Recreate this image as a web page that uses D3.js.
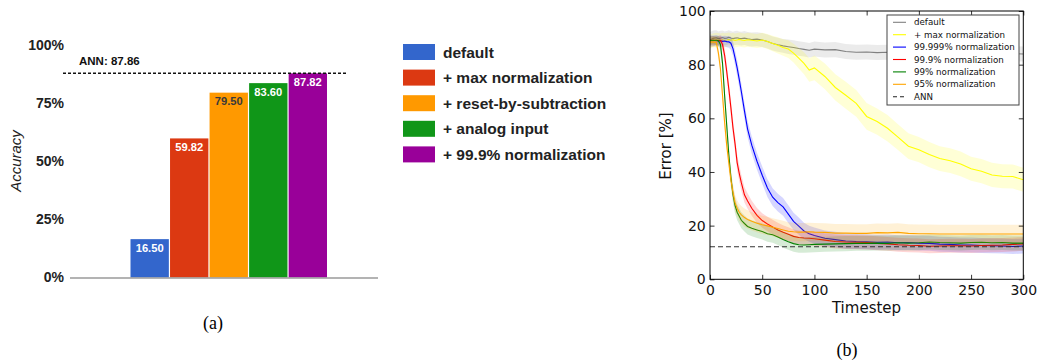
<!DOCTYPE html>
<html>
<head>
<meta charset="utf-8">
<script src="https://cdn.jsdelivr.net/npm/d3@7"></script>
<style>
  html, body { margin: 0; padding: 0; background: #fff; }
  svg { display: block; }
</style>
</head>
<body>
<svg id="chart" width="1039" height="362"></svg>
<script>
// ---------------- Panel (a) data ----------------
const categories = ["default", "+ max normalization", "+ reset-by-subtraction", "+ analog input", "+ 99.9% normalization"];
const accuracy = [16.50, 59.82, 79.50, 83.60, 87.82];
const barColors = ["#3366cc", "#dc3912", "#ff9900", "#109618", "#990099"];
const valueLabelColors = ["#ffffff", "#ffffff", "#3a3a3a", "#ffffff", "#ffffff"];
const annAccuracy = 87.86;
const accuracyTicks = [0, 0.25, 0.5, 0.75, 1.0];

// ---------------- Panel (b) data ----------------
const timesteps = [0, 3, 6, 8, 10, 12, 14, 16, 18, 20, 22, 24, 26, 28, 30, 33, 36, 40, 45, 50, 55, 60, 65, 70, 75, 80, 85, 90, 95, 100, 110, 120, 130, 140, 150, 160, 170, 180, 190, 200, 210, 220, 230, 240, 250, 260, 270, 280, 290, 300];

const errDefault = [89.2, 89.8, 90.0, 89.7, 89.9, 90.1, 89.8, 89.9, 90.2, 89.9, 89.7, 89.9, 90.0, 89.8, 89.7, 89.9, 89.6, 89.4, 89.5, 89.2, 88.6, 87.9, 87.4, 87.0, 86.7, 86.4, 86.0, 85.7, 85.4, 85.8, 85.5, 85.6, 84.9, 84.6, 84.7, 84.5, 84.6, 84.4, 84.5, 84.3, 84.4, 84.2, 84.3, 84.1, 84.2, 84.0, 84.1, 84.0, 84.1, 84.0];
const stdDefault = [3.0, 2.9, 2.8, 2.7, 2.7, 2.6, 2.6, 2.6, 2.6, 2.6, 2.6, 2.6, 2.6, 2.6, 2.6, 2.6, 2.6, 2.6, 2.6, 2.6, 2.6, 2.6, 2.6, 2.6, 2.7, 2.7, 2.7, 2.7, 2.7, 2.8, 2.8, 2.8, 2.8, 2.8, 2.8, 2.8, 2.8, 2.8, 2.8, 2.8, 2.8, 2.8, 2.8, 2.8, 2.8, 2.8, 2.8, 2.8, 2.8, 2.8];

const errMaxNorm = [88.6, 89.0, 89.3, 89.2, 89.0, 89.3, 89.1, 89.2, 89.4, 89.1, 89.3, 89.0, 89.2, 89.4, 89.2, 89.0, 89.3, 89.1, 88.8, 89.2, 88.6, 87.9, 87.2, 86.4, 85.8, 84.3, 82.4, 80.5, 78.0, 78.8, 75.6, 71.5, 68.6, 65.6, 60.7, 58.8, 56.3, 53.0, 49.6, 48.3, 46.5, 45.0, 44.2, 43.0, 41.2, 40.3, 38.9, 38.4, 38.3, 37.1];
const stdMaxNorm = [2.6, 2.6, 2.6, 2.6, 2.6, 2.6, 2.6, 2.6, 2.6, 2.6, 2.6, 2.6, 2.6, 2.6, 2.6, 2.6, 2.6, 2.6, 2.6, 2.7, 2.8, 2.9, 3.0, 3.1, 3.3, 3.5, 3.8, 4.1, 4.4, 4.6, 4.8, 4.9, 5.0, 5.0, 5.0, 4.9, 4.9, 4.8, 4.8, 4.7, 4.7, 4.6, 4.6, 4.6, 4.5, 4.5, 4.5, 4.5, 4.5, 4.5];

const err99999 = [89.0, 88.9, 89.1, 88.8, 88.9, 88.7, 88.8, 88.6, 88.5, 88.0, 86.0, 82.5, 78.8, 74.5, 70.0, 62.8, 56.0, 50.0, 44.0, 38.8, 34.0, 30.6, 28.6, 27.0, 24.3, 21.6, 19.8, 18.0, 17.0, 16.3, 15.3, 14.8, 14.3, 14.1, 14.0, 13.8, 13.9, 13.6, 13.7, 13.5, 13.4, 13.1, 13.0, 12.8, 12.8, 12.6, 12.5, 12.4, 12.2, 12.4];
const std99999 = [2.0, 2.0, 2.0, 2.0, 2.0, 2.0, 2.0, 2.1, 2.2, 2.4, 2.6, 2.8, 3.0, 3.0, 3.0, 3.0, 3.1, 3.2, 3.2, 3.2, 3.3, 3.3, 3.3, 3.3, 3.3, 3.2, 3.2, 3.1, 3.0, 3.0, 2.9, 2.9, 2.9, 2.8, 2.8, 2.8, 2.8, 2.8, 2.8, 2.8, 2.8, 2.8, 2.8, 2.8, 2.8, 2.8, 2.8, 2.8, 2.8, 2.8];

const err999 = [89.0, 89.1, 88.9, 89.0, 89.1, 87.5, 83.5, 77.5, 71.0, 64.0, 56.5, 50.5, 43.5, 39.5, 36.0, 31.5, 29.2, 26.5, 23.8, 21.9, 20.6, 19.5, 18.4, 17.5, 16.8, 16.0, 15.6, 15.4, 15.3, 15.1, 14.6, 14.1, 13.9, 13.8, 13.7, 13.4, 13.2, 12.9, 12.7, 12.6, 12.3, 12.4, 12.5, 12.5, 12.4, 12.6, 12.7, 12.8, 13.0, 13.2];
const std999 = [1.6, 1.6, 1.6, 1.6, 1.8, 2.2, 2.6, 2.8, 3.0, 3.0, 3.0, 3.0, 3.0, 3.0, 3.0, 2.9, 2.9, 2.8, 2.8, 2.7, 2.7, 2.7, 2.7, 2.6, 2.6, 2.6, 2.6, 2.6, 2.6, 2.6, 2.6, 2.6, 2.6, 2.6, 2.6, 2.6, 2.6, 2.6, 2.6, 2.6, 2.6, 2.6, 2.6, 2.6, 2.6, 2.6, 2.6, 2.6, 2.6, 2.6];

const err99 = [89.0, 89.1, 89.0, 88.9, 87.5, 80.5, 68.5, 57.5, 46.5, 38.0, 31.5, 27.5, 25.0, 23.5, 22.0, 20.8, 19.7, 19.0, 18.4, 17.8, 17.0, 16.6, 15.8, 14.8, 14.0, 13.3, 12.9, 12.8, 12.9, 13.0, 13.1, 13.2, 13.3, 13.4, 13.4, 13.5, 13.4, 13.6, 13.5, 13.6, 13.9, 13.7, 13.6, 13.5, 13.7, 13.8, 13.6, 13.7, 13.5, 13.5];
const std99 = [1.6, 1.6, 1.6, 1.8, 2.2, 2.6, 3.0, 3.0, 3.0, 3.0, 3.0, 3.0, 3.0, 3.0, 3.0, 3.0, 3.0, 3.0, 3.0, 3.0, 3.0, 3.0, 3.0, 3.0, 3.0, 3.0, 3.0, 2.9, 2.9, 2.9, 2.8, 2.8, 2.8, 2.8, 2.8, 2.8, 2.8, 2.8, 2.8, 2.8, 2.8, 2.8, 2.8, 2.8, 2.8, 2.8, 2.8, 2.8, 2.8, 2.8];

const err95 = [88.3, 88.5, 88.3, 84.5, 78.5, 68.5, 58.5, 50.0, 43.5, 37.0, 32.5, 28.5, 26.5, 25.0, 24.0, 23.0, 22.3, 21.6, 20.9, 20.3, 19.9, 19.4, 18.9, 18.4, 17.9, 17.7, 17.6, 17.6, 17.7, 17.6, 17.5, 17.2, 17.2, 17.1, 17.1, 17.4, 17.3, 17.5, 17.1, 17.0, 17.0, 16.9, 16.9, 16.9, 16.9, 16.9, 16.9, 16.9, 16.9, 16.9];
const std95 = [1.8, 1.8, 1.9, 2.2, 2.6, 3.0, 3.0, 3.0, 3.0, 3.0, 3.0, 3.0, 3.0, 3.2, 3.3, 3.4, 3.4, 3.4, 3.4, 3.4, 3.4, 3.4, 3.4, 3.4, 3.4, 3.4, 3.4, 3.4, 3.4, 3.4, 3.4, 3.4, 3.4, 3.4, 3.4, 3.4, 3.4, 3.4, 3.4, 3.4, 3.4, 3.4, 3.4, 3.4, 3.4, 3.4, 3.4, 3.4, 3.4, 3.4];

const annError = 12.14;
const seriesNames = ["default", "+ max normalization", "99.999% normalization", "99.9% normalization", "99% normalization", "95% normalization"];
const seriesMeans = [errDefault, errMaxNorm, err99999, err999, err99, err95];
const seriesStds = [stdDefault, stdMaxNorm, std99999, std999, std99, std95];
const seriesColors = ["#808080", "#ffff00", "#0000ff", "#ff0000", "#008000", "#ffa500"];
const errorTicks = [0, 20, 40, 60, 80, 100];
const stepTicks = [0, 50, 100, 150, 200, 250, 300];

const svg = d3.select("#chart");

// ================= Panel (a) =================
const ga = svg.append("g");
const yA = d3.scaleLinear().domain([0, 1]).range([277.5, 45]);
const xA = d3.scaleBand().domain(categories).range([130.5, 327]).paddingInner(0.03).paddingOuter(0);

// y-axis labels
const axA = ga.append("g").attr("transform", "translate(64,0)")
  .call(d3.axisLeft(yA).tickValues(accuracyTicks).tickSize(0).tickPadding(0).tickFormat(d3.format(".0%")));
axA.select(".domain").remove();
axA.selectAll("text")
  .attr("font-family", "'Liberation Sans', Arial, sans-serif")
  .attr("font-size", 14).attr("font-weight", "bold").attr("fill", "#222");

// bars
ga.selectAll("rect.bar").data(categories).join("rect")
  .attr("class", "bar")
  .attr("x", d => xA(d))
  .attr("width", xA.bandwidth())
  .attr("y", (d, i) => yA(accuracy[i] / 100))
  .attr("height", (d, i) => yA(0) - yA(accuracy[i] / 100))
  .attr("fill", (d, i) => barColors[i]);

// value labels
ga.selectAll("text.val").data(categories).join("text")
  .attr("class", "val")
  .attr("x", d => xA(d) + xA.bandwidth() / 2)
  .attr("y", (d, i) => yA(accuracy[i] / 100) + 12.5)
  .attr("text-anchor", "middle")
  .attr("font-family", "'Liberation Sans', Arial, sans-serif")
  .attr("font-size", 11.2).attr("font-weight", "bold")
  .attr("fill", (d, i) => valueLabelColors[i])
  .text((d, i) => accuracy[i].toFixed(2));

// baseline
ga.append("line").attr("x1", 70).attr("x2", 378).attr("y1", yA(0) + 0.5).attr("y2", yA(0) + 0.5)
  .attr("stroke", "#9a9a9a").attr("stroke-width", 1.6);

// ANN dashed line
ga.append("line").attr("x1", 63).attr("x2", 347)
  .attr("y1", yA(annAccuracy / 100)).attr("y2", yA(annAccuracy / 100))
  .attr("stroke", "#111").attr("stroke-width", 1.3).attr("stroke-dasharray", "3,2");
ga.append("text").attr("x", 79).attr("y", 65)
  .attr("font-family", "'Liberation Sans', Arial, sans-serif")
  .attr("font-size", 11.5).attr("font-weight", "bold").attr("fill", "#111")
  .text("ANN: " + annAccuracy.toFixed(2));

// y title
ga.append("text")
  .attr("transform", "translate(21,161) rotate(-90)")
  .attr("text-anchor", "middle")
  .attr("font-family", "'Liberation Sans', Arial, sans-serif")
  .attr("font-size", 15).attr("font-style", "italic").attr("fill", "#222")
  .text("Accuracy");

// legend
const legA = ga.append("g");
categories.forEach((c, i) => {
  const yy = 44 + i * 25.6;
  legA.append("rect").attr("x", 403).attr("y", yy).attr("width", 32).attr("height", 16).attr("fill", barColors[i]);
  legA.append("text").attr("x", 443).attr("y", yy + 13.5)
    .attr("font-family", "'Liberation Sans', Arial, sans-serif")
    .attr("font-size", 15.5).attr("font-weight", "bold").attr("fill", "#222")
    .text(c);
});

// caption
svg.append("text").attr("x", 213).attr("y", 329).attr("text-anchor", "middle")
  .attr("font-family", "'Liberation Serif', 'Times New Roman', serif").attr("font-size", 18).attr("fill", "#000")
  .text("(a)");

// ================= Panel (b) =================
const gb = svg.append("g");
const xB = d3.scaleLinear().domain([0, 300]).range([710, 1023.3]);
const yB = d3.scaleLinear().domain([0, 100]).range([279.3, 11]);

gb.append("defs").append("clipPath").attr("id", "plotclip")
  .append("rect").attr("x", 710).attr("y", 11).attr("width", 313.3).attr("height", 268.3);

const plot = gb.append("g").attr("clip-path", "url(#plotclip)");
const area = d3.area()
  .x((d, i) => xB(timesteps[i]));
const line = d3.line().x((d, i) => xB(timesteps[i])).y(d => yB(d));

seriesMeans.forEach((m, s) => {
  const sd = seriesStds[s];
  plot.append("path")
    .datum(m)
    .attr("d", d3.area().x((d, i) => xB(timesteps[i])).y0((d, i) => yB(d - sd[i])).y1((d, i) => yB(d + sd[i])))
    .attr("fill", seriesColors[s]).attr("fill-opacity", 0.16).attr("stroke", "none");
  plot.append("path")
    .datum(m)
    .attr("d", line)
    .attr("fill", "none").attr("stroke", seriesColors[s]).attr("stroke-width", 1.1);
});

// ANN dashed
plot.append("line").attr("x1", xB(0)).attr("x2", xB(300)).attr("y1", yB(annError)).attr("y2", yB(annError))
  .attr("stroke", "#333").attr("stroke-width", 1.1).attr("stroke-dasharray", "5,3");

const fontB = "'DejaVu Sans', sans-serif";
// axes
const axL = gb.append("g").attr("transform", "translate(710,0)")
  .call(d3.axisLeft(yB).tickValues(errorTicks).tickSizeInner(-4.5).tickSizeOuter(0).tickPadding(4.3));
const axBt = gb.append("g").attr("transform", "translate(0,279.3)")
  .call(d3.axisBottom(xB).tickValues(stepTicks).tickSizeInner(-4.5).tickSizeOuter(0).tickPadding(5.8));
const axR = gb.append("g").attr("transform", "translate(1023.3,0)")
  .call(d3.axisRight(yB).tickValues(errorTicks).tickSizeInner(-4.5).tickSizeOuter(0).tickFormat(""));
const axT = gb.append("g").attr("transform", "translate(0,11)")
  .call(d3.axisTop(xB).tickValues(stepTicks).tickSizeInner(-4.5).tickSizeOuter(0).tickFormat(""));
[axL, axBt, axR, axT].forEach(a => {
  a.select(".domain").remove();
  a.selectAll("line").attr("stroke", "#000").attr("stroke-width", 0.8);
  a.selectAll("text").attr("font-family", fontB).attr("font-size", 14).attr("fill", "#111");
});
gb.append("rect").attr("x", 710).attr("y", 11).attr("width", 313.3).attr("height", 268.3)
  .attr("fill", "none").attr("stroke", "#000").attr("stroke-width", 1);

// axis titles
gb.append("text").attr("x", 866.5).attr("y", 312.5).attr("text-anchor", "middle")
  .attr("font-family", fontB).attr("font-size", 15).attr("fill", "#111").text("Timestep");
gb.append("text").attr("transform", "translate(671,146) rotate(-90)").attr("text-anchor", "middle")
  .attr("font-family", fontB).attr("font-size", 15).attr("fill", "#111").text("Error [%]");

// legend
const legB = gb.append("g");
legB.append("rect").attr("x", 887).attr("y", 15).attr("width", 132).attr("height", 90)
  .attr("fill", "#fff").attr("stroke", "#444").attr("stroke-width", 1);
const legItems = seriesNames.map((n, i) => ({ name: n, color: seriesColors[i], dash: null }))
  .concat([{ name: "ANN", color: "#222", dash: "4,3" }]);
legItems.forEach((it, i) => {
  const yy = 22.3 + i * 12.4;
  legB.append("line").attr("x1", 893).attr("x2", 906).attr("y1", yy).attr("y2", yy)
    .attr("stroke", it.color).attr("stroke-width", 1.1).attr("stroke-dasharray", it.dash);
  legB.append("text").attr("x", 914).attr("y", yy + 3.1)
    .attr("font-family", fontB).attr("font-size", 8.7).attr("fill", "#111").text(it.name);
});

svg.append("text").attr("x", 847).attr("y", 356).attr("text-anchor", "middle")
  .attr("font-family", "'Liberation Serif', 'Times New Roman', serif").attr("font-size", 18).attr("fill", "#000")
  .text("(b)");
</script>
</body>
</html>
